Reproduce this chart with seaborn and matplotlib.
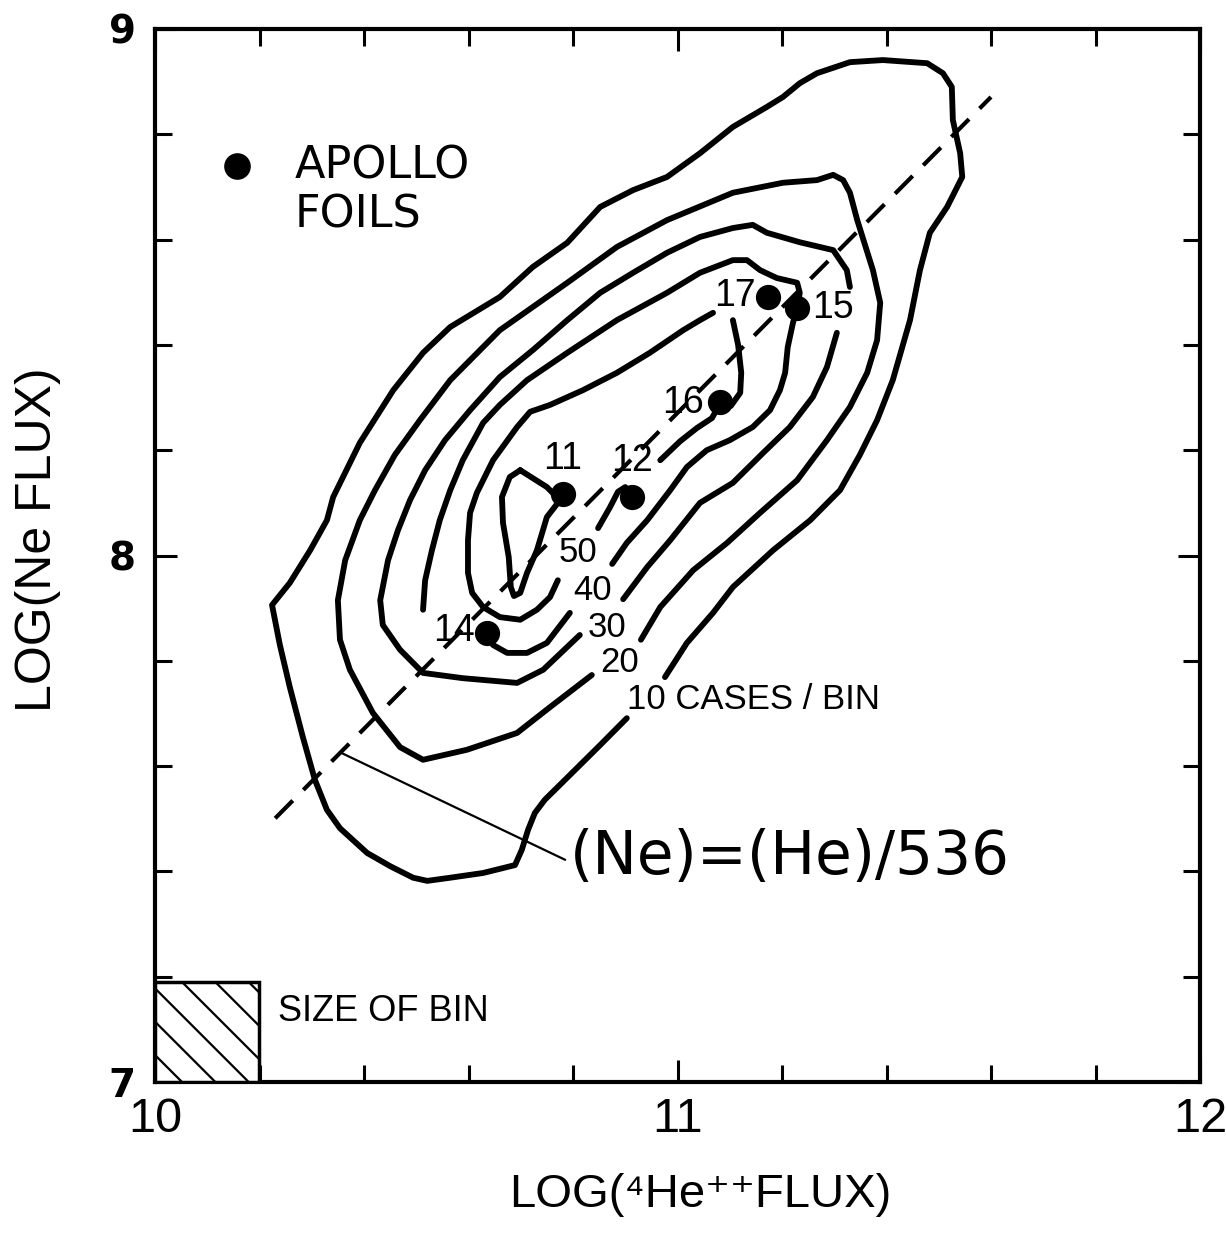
import numpy as np
import pandas as pd
import matplotlib
matplotlib.use("Agg")
import matplotlib.pyplot as plt
from matplotlib import font_manager as fm
from matplotlib.ticker import MultipleLocator
from matplotlib.patches import Rectangle
import seaborn as sns

# ---------------- data (log fluxes) ----------------
foil_names = ["11", "12", "14", "15", "16", "17"]
foil_he = [10.781, 10.913, 10.635, 11.229, 11.081, 11.173]
foil_ne = [8.117, 8.111, 7.853, 8.470, 8.291, 8.491]

ratio_he_ne = 536.0
reg_he = [10.23, 11.60]

bin_w = 0.2
bin_h = 0.19

contour_levels = ["50", "40", "30", "20"]

# contour 10 cases/bin (outer)
c10_pts = [(10.976, 7.769), (11.018, 7.834), (11.068, 7.891), (11.106, 7.940), (11.183, 8.010),
           (11.254, 8.067), (11.311, 8.124), (11.349, 8.191), (11.382, 8.257), (11.412, 8.333),
           (11.445, 8.447), (11.464, 8.542), (11.483, 8.613), (11.516, 8.662), (11.545, 8.719),
           (11.541, 8.764), (11.527, 8.827), (11.525, 8.890), (11.508, 8.916), (11.478, 8.935),
           (11.393, 8.941), (11.330, 8.937), (11.267, 8.916), (11.234, 8.897), (11.202, 8.871),
           (11.171, 8.852), (11.106, 8.814), (11.043, 8.764), (10.980, 8.719), (10.915, 8.694),
           (10.852, 8.662), (10.789, 8.594), (10.723, 8.548), (10.660, 8.491), (10.565, 8.434),
           (10.513, 8.385), (10.456, 8.314), (10.392, 8.214), (10.341, 8.111), (10.329, 8.067),
           (10.297, 8.010), (10.258, 7.948), (10.224, 7.906), (10.239, 7.830), (10.258, 7.750),
           (10.283, 7.655), (10.306, 7.574), (10.329, 7.517), (10.354, 7.482), (10.406, 7.435),
           (10.450, 7.410), (10.494, 7.388), (10.521, 7.382), (10.565, 7.388), (10.628, 7.397),
           (10.689, 7.412), (10.702, 7.441), (10.714, 7.479), (10.727, 7.511), (10.746, 7.536),
           (10.794, 7.583), (10.852, 7.640), (10.903, 7.691)]

c20_pts = [(10.930, 7.840), (10.967, 7.902), (11.030, 7.972), (11.095, 8.024), (11.158, 8.081),
           (11.229, 8.143), (11.286, 8.219), (11.330, 8.282), (11.363, 8.347), (11.382, 8.409),
           (11.388, 8.480), (11.374, 8.542), (11.344, 8.637), (11.330, 8.689), (11.317, 8.713),
           (11.298, 8.723), (11.267, 8.713), (11.202, 8.708), (11.106, 8.689), (10.980, 8.637),
           (10.884, 8.586), (10.789, 8.518), (10.660, 8.428), (10.565, 8.333), (10.507, 8.257),
           (10.459, 8.191), (10.421, 8.124), (10.392, 8.067), (10.364, 7.991), (10.350, 7.915),
           (10.354, 7.840), (10.373, 7.783), (10.417, 7.701), (10.469, 7.636), (10.513, 7.612),
           (10.597, 7.631), (10.693, 7.663), (10.756, 7.712), (10.836, 7.773)]

c30a_pts = [(10.896, 7.917), (10.942, 7.978), (10.986, 8.029), (11.043, 8.100), (11.106, 8.138),
            (11.164, 8.195), (11.215, 8.244), (11.259, 8.301), (11.286, 8.358), (11.305, 8.423)]
c30b_pts = [(11.330, 8.510), (11.324, 8.542), (11.298, 8.580), (11.234, 8.595), (11.171, 8.613),
            (11.144, 8.628), (11.106, 8.622), (11.043, 8.605), (10.980, 8.575), (10.915, 8.537),
            (10.852, 8.499), (10.789, 8.447), (10.723, 8.390), (10.660, 8.339), (10.603, 8.276),
            (10.555, 8.219), (10.517, 8.162), (10.488, 8.105), (10.465, 8.048), (10.446, 7.991),
            (10.431, 7.915), (10.436, 7.868), (10.469, 7.821), (10.513, 7.777), (10.589, 7.767),
            (10.693, 7.758), (10.743, 7.783), (10.813, 7.849)]

c40a_pts = [(10.875, 7.984), (10.903, 8.024), (10.942, 8.067), (10.986, 8.124), (11.018, 8.168),
            (11.056, 8.200), (11.100, 8.219), (11.144, 8.244), (11.177, 8.276), (11.196, 8.314),
            (11.206, 8.347), (11.211, 8.396), (11.221, 8.442), (11.229, 8.470), (11.234, 8.499),
            (11.229, 8.518), (11.190, 8.527), (11.158, 8.542), (11.133, 8.561), (11.106, 8.561),
            (11.043, 8.537), (10.980, 8.499), (10.884, 8.447), (10.789, 8.385), (10.712, 8.333),
            (10.660, 8.286), (10.628, 8.252), (10.589, 8.181), (10.565, 8.124), (10.545, 8.067),
            (10.530, 8.010), (10.517, 7.953), (10.513, 7.897)]
c40b_pts = [(10.635, 7.853), (10.647, 7.830), (10.674, 7.815), (10.712, 7.815), (10.750, 7.834),
            (10.794, 7.891)]

c50a_pts = [(10.848, 8.052), (10.871, 8.092), (10.886, 8.121), (10.900, 8.130), (10.913, 8.111)]
c50b_pts = [(10.967, 8.181), (11.005, 8.217), (11.037, 8.242), (11.066, 8.261), (11.081, 8.288),
            (11.102, 8.284), (11.120, 8.309), (11.122, 8.347), (11.116, 8.400), (11.106, 8.447)]
c50c_pts = [(11.068, 8.461), (11.043, 8.447), (11.011, 8.428), (10.947, 8.385), (10.884, 8.347),
            (10.819, 8.314), (10.756, 8.286), (10.718, 8.273), (10.693, 8.244), (10.647, 8.181),
            (10.616, 8.119), (10.603, 8.081), (10.599, 8.029), (10.599, 7.967), (10.607, 7.929),
            (10.628, 7.902), (10.660, 7.883), (10.699, 7.878), (10.731, 7.897), (10.756, 7.921),
            (10.771, 7.953)]

c60_pts = [(10.699, 8.162), (10.750, 8.130), (10.775, 8.105), (10.750, 8.073), (10.731, 8.010),
           (10.712, 7.967), (10.699, 7.929), (10.687, 7.923), (10.681, 7.940), (10.677, 7.997),
           (10.666, 8.062), (10.664, 8.111), (10.679, 8.149), (10.699, 8.162)]

contour_segments = [c10_pts, c20_pts, c30a_pts, c30b_pts, c40a_pts, c40b_pts,
                    c50a_pts, c50b_pts, c50c_pts, c60_pts]

# ---------------- style ----------------
sns.set_theme(style="ticks")
avail = {f.name for f in fm.fontManager.ttflist}
LIB = "Liberation Sans" if "Liberation Sans" in avail else "DejaVu Sans"
LIBF = [LIB, "DejaVu Sans"]
plt.rcParams["font.family"] = ["DejaVu Sans"]
plt.rcParams["hatch.linewidth"] = 1.6
for k in ["text.color", "axes.labelcolor", "xtick.color", "ytick.color", "axes.edgecolor"]:
    plt.rcParams[k] = "black"

W, H = 1226, 1240
fig = plt.figure(figsize=(W / 100, H / 100), dpi=100, facecolor="white")
ax = fig.add_axes([155 / W, 1 - 1082 / H, (1200 - 155) / W, (1082 - 29) / H])
ax.set_facecolor("white")
ax.set_xlim(10, 12)
ax.set_ylim(7, 9)

# contours
for seg in contour_segments:
    df = pd.DataFrame(seg, columns=["he", "ne"])
    sns.lineplot(data=df, x="he", y="ne", sort=False, estimator=None, color="black",
                 lw=4.2, ax=ax, solid_capstyle="round", solid_joinstyle="round", zorder=3)

# regression line (Ne) = (He)/536
reg_ne = [h - np.log10(ratio_he_ne) for h in reg_he]
ax.plot(reg_he, reg_ne, color="black", lw=3.0, dashes=(6, 3.6), zorder=2)

# pointer to formula
ptr_x0 = 10.355
ax.plot([ptr_x0, 10.785], [ptr_x0 - np.log10(ratio_he_ne), 7.422], color="black", lw=1.6, zorder=2)
ax.text(10.794, 7.426, "(Ne)=(He)/536", fontsize=43, ha="left", va="center", color="black")

# foils
sns.scatterplot(x=foil_he, y=foil_ne, s=330, color="black", edgecolor="black",
                linewidth=0, ax=ax, zorder=5)
foil_label_pos = {"11": (10.781, 8.183), "12": (10.913, 8.180), "14": (10.572, 7.856),
                  "15": (11.298, 8.470), "16": (11.011, 8.290), "17": (11.110, 8.493)}
for name in foil_names:
    lx, ly = foil_label_pos[name]
    ax.text(lx, ly, name, fontsize=27, family=LIBF, ha="center", va="center")

# contour labels
lab_pos = [(10.810, 8.005), (10.838, 7.934), (10.865, 7.864), (10.890, 7.796)]
for lab, (lx, ly) in zip(contour_levels, lab_pos):
    ax.text(lx, ly, lab, fontsize=25, family=LIBF, ha="center", va="center")
ax.text(10.903, 7.726, "10 CASES / BIN", fontsize=25, family=LIBF, ha="left", va="center")

# legend key
ax.scatter([0.0785], [0.8695], s=330, color="black", transform=ax.transAxes, zorder=5)
ax.text(0.134, 0.8695, "APOLLO", transform=ax.transAxes, fontsize=32, ha="left", va="center")
ax.text(0.134, 0.8235, "FOILS", transform=ax.transAxes, fontsize=32, ha="left", va="center")

# size of bin box
ax.add_patch(Rectangle((10, 7), bin_w, bin_h, facecolor="white", edgecolor="black",
                       hatch="\\", lw=2.5, zorder=4))
ax.text(10.235, 7.133, "SIZE OF BIN", fontsize=26, family=LIBF, ha="left", va="center")

# axes, ticks
ax.set_xticks([10, 11, 12])
ax.set_xticklabels(["10", "11", "12"])
ax.set_yticks([7, 8, 9])
ax.set_yticklabels(["7", "8", "9"])
ax.xaxis.set_minor_locator(MultipleLocator(0.2))
ax.yaxis.set_minor_locator(MultipleLocator(0.2))
ax.tick_params(which="both", direction="in", top=True, right=True, width=2.2, color="black")
ax.tick_params(which="major", length=16)
ax.tick_params(which="minor", length=12)
ax.tick_params(axis="x", which="major", pad=11, labelsize=35)
ax.tick_params(axis="y", which="major", pad=14, labelsize=28)
for t in ax.get_xticklabels():
    t.set_family(LIBF)
for t in ax.get_yticklabels():
    t.set_fontweight("bold")
for sp in ax.spines.values():
    sp.set_linewidth(3)
    sp.set_color("black")
    sp.set_visible(True)

ax.set_xlabel("LOG(\u2074He\u207a\u207aFLUX)", fontsize=34, va="center", family=LIBF)
ax.xaxis.set_label_coords((700 - 155) / 1045, (1082 - 1195) / 1053)
ax.set_ylabel("LOG(Ne FLUX)", fontsize=36, va="center", family=LIBF)
ax.yaxis.set_label_coords((38 - 155) / 1045, (1082 - 540) / 1053)

fig.savefig("out.png", dpi=100, facecolor="white")
